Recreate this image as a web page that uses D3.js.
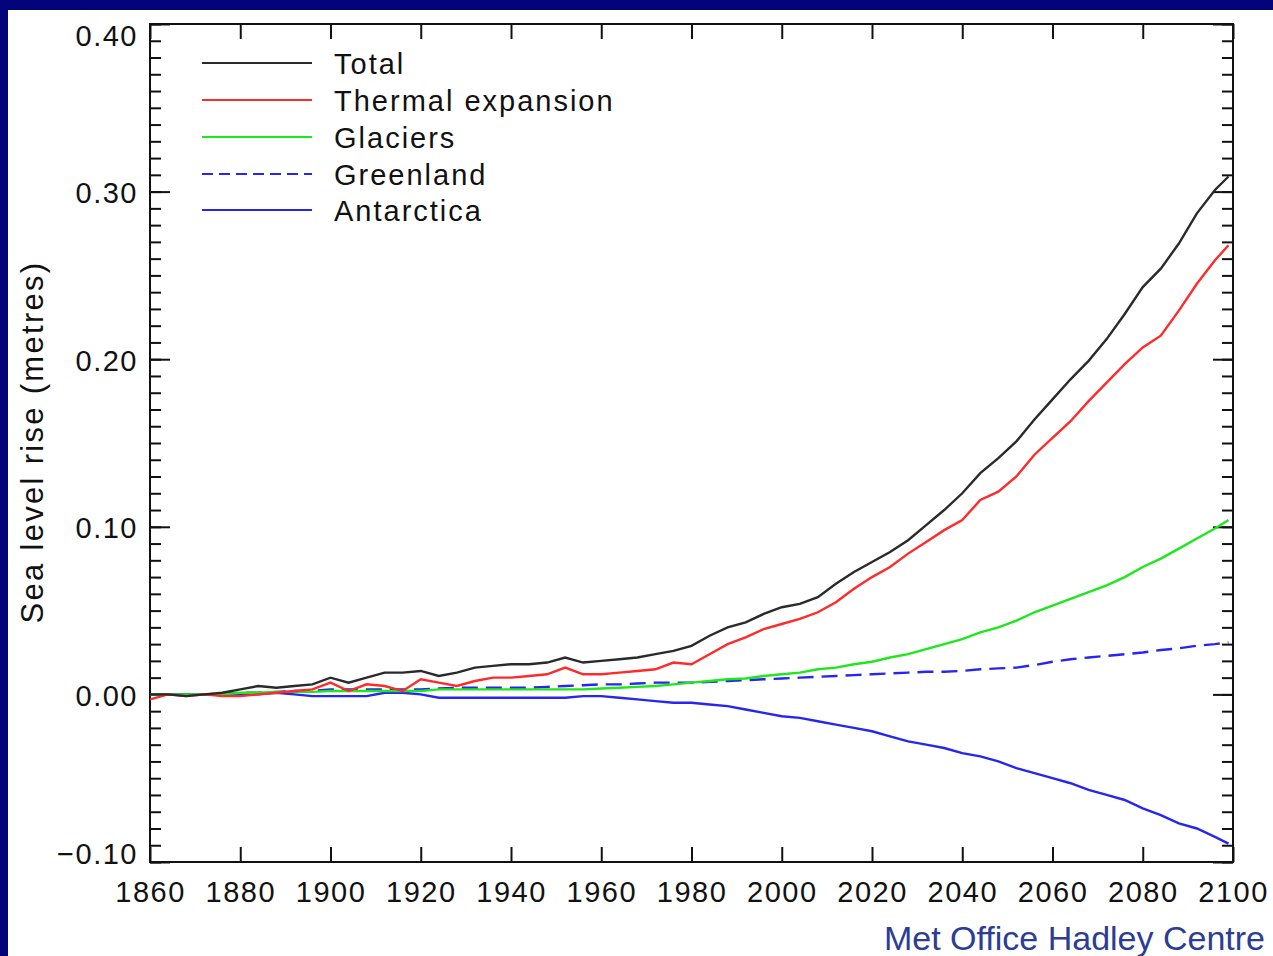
<!DOCTYPE html>
<html>
<head>
<meta charset="utf-8">
<script src="https://cdn.jsdelivr.net/npm/d3@7"></script>
<style>
	body { margin: 0; background: #03037a; }
	svg { display: block; }
	.axis text { font-family: "Liberation Sans", Arial, sans-serif; font-size: 29px; letter-spacing: 1.5px; fill: #111; }
	.axis line { stroke: #111; stroke-width: 2; }
	.axis path { display: none; }
</style>
</head>
<body>
<div id="chart-area"></div>
<script>

// model years (shared x values)
const years = [1860, 1864, 1868, 1872, 1876, 1880, 1884, 1888, 1892, 1896,
	1900, 1904, 1908, 1912, 1916, 1920, 1924, 1928, 1932, 1936,
	1940, 1944, 1948, 1952, 1956, 1960, 1964, 1968, 1972, 1976,
	1980, 1984, 1988, 1992, 1996, 2000, 2004, 2008, 2012, 2016,
	2020, 2024, 2028, 2032, 2036, 2040, 2044, 2048, 2052, 2056,
	2060, 2064, 2068, 2072, 2076, 2080, 2084, 2088, 2092, 2096, 2099];

// sea level rise in metres
const total = [0.000, 0.000, -0.001, 0.000, 0.001, 0.003, 0.005, 0.004, 0.005, 0.006,
	0.010, 0.007, 0.010, 0.013, 0.013, 0.014, 0.011, 0.013, 0.016, 0.017,
	0.018, 0.018, 0.019, 0.022, 0.019, 0.020, 0.021, 0.022, 0.024, 0.026,
	0.029, 0.035, 0.040, 0.043, 0.048, 0.052, 0.054, 0.058, 0.066, 0.073,
	0.079, 0.085, 0.092, 0.101, 0.110, 0.120, 0.132, 0.141, 0.151, 0.164,
	0.176, 0.188, 0.199, 0.212, 0.227, 0.243, 0.254, 0.269, 0.287, 0.301, 0.309];

const thermal = [-0.003, 0.000, -0.001, 0.000, -0.001, -0.001, 0.000, 0.001, 0.002, 0.003,
	0.007, 0.002, 0.006, 0.005, 0.002, 0.009, 0.007, 0.005, 0.008, 0.010,
	0.010, 0.011, 0.012, 0.016, 0.012, 0.012, 0.013, 0.014, 0.015, 0.019,
	0.018, 0.024, 0.030, 0.034, 0.039, 0.042, 0.045, 0.049, 0.055, 0.063,
	0.070, 0.076, 0.084, 0.091, 0.098, 0.104, 0.116, 0.121, 0.130, 0.143,
	0.153, 0.163, 0.175, 0.186, 0.197, 0.207, 0.214, 0.229, 0.245, 0.259, 0.268];

const glaciers = [0.000, 0.000, 0.000, 0.000, 0.000, 0.001, 0.001, 0.0015, 0.0015, 0.0015,
	0.002, 0.002, 0.002, 0.002, 0.002, 0.002, 0.003, 0.003, 0.003, 0.003,
	0.003, 0.003, 0.003, 0.003, 0.003, 0.0035, 0.004, 0.0045, 0.005, 0.006,
	0.007, 0.008, 0.009, 0.0095, 0.011, 0.012, 0.013, 0.015, 0.016, 0.018,
	0.0195, 0.022, 0.024, 0.027, 0.030, 0.033, 0.037, 0.040, 0.044, 0.049,
	0.053, 0.057, 0.061, 0.065, 0.070, 0.076, 0.081, 0.087, 0.093, 0.099, 0.104];

const greenland = [0.000, 0.000, 0.000, 0.000, 0.0005, 0.001, 0.001, 0.0015, 0.002, 0.002,
	0.003, 0.003, 0.003, 0.003, 0.003, 0.003, 0.0035, 0.004, 0.004, 0.004,
	0.004, 0.004, 0.0045, 0.005, 0.0055, 0.006, 0.006, 0.0065, 0.007, 0.007,
	0.007, 0.0075, 0.008, 0.0085, 0.009, 0.0095, 0.010, 0.0105, 0.011, 0.0115,
	0.012, 0.0125, 0.013, 0.0135, 0.0135, 0.014, 0.015, 0.0155, 0.016, 0.0175,
	0.0195, 0.021, 0.022, 0.023, 0.024, 0.025, 0.0265, 0.0275, 0.029, 0.030, 0.031];

const antarctica = [0.000, 0.000, 0.000, 0.000, 0.000, 0.000, 0.000, 0.001, 0.000, -0.001,
	-0.001, -0.001, -0.001, 0.001, 0.001, 0.000, -0.002, -0.002, -0.002, -0.002,
	-0.002, -0.002, -0.002, -0.002, -0.001, -0.001, -0.002, -0.003, -0.004, -0.005,
	-0.005, -0.006, -0.007, -0.009, -0.011, -0.013, -0.014, -0.016, -0.018, -0.020,
	-0.022, -0.025, -0.028, -0.030, -0.032, -0.035, -0.037, -0.040, -0.044, -0.047,
	-0.050, -0.053, -0.057, -0.060, -0.063, -0.068, -0.072, -0.077, -0.080, -0.085, -0.089];

const seriesNames = ["Total", "Thermal expansion", "Glaciers", "Greenland", "Antarctica"];
const seriesValues = [total, thermal, glaciers, greenland, antarctica];

const xTicks = [1860, 1880, 1900, 1920, 1940, 1960, 1980, 2000, 2020, 2040, 2060, 2080, 2100];
const yTicks = [-0.10, 0.00, 0.10, 0.20, 0.30, 0.40];

class SeaLevelChart {

	constructor(parentElement) {
		this.parentElement = parentElement;
		this.colors = ["#2a2a2a", "#ff2b2b", "#1de81d", "#2626ee", "#2626ee"];
		this.dashes = [null, null, null, "16,8", null];
		this.displayData = seriesNames.map((name, i) => ({
			name: name,
			values: years.map((yr, j) => ({year: yr, value: seriesValues[i][j]}))
		}));
	}

	initVis() {
		let vis = this;

		vis.margin = {top: 24, right: 40, bottom: 94, left: 150};
		vis.totalWidth = 1273;
		vis.totalHeight = 956;
		vis.width = vis.totalWidth - vis.margin.left - vis.margin.right;
		vis.height = vis.totalHeight - vis.margin.top - vis.margin.bottom;

		let root = d3.select("#" + vis.parentElement).append("svg")
			.attr("width", vis.totalWidth)
			.attr("height", vis.totalHeight);

		// navy slide background + white panel
		root.append("rect")
			.attr("width", vis.totalWidth)
			.attr("height", vis.totalHeight)
			.attr("fill", "#03037a");
		root.append("rect")
			.attr("x", 8)
			.attr("y", 10)
			.attr("width", vis.totalWidth - 8)
			.attr("height", vis.totalHeight - 10)
			.attr("fill", "#ffffff");

		vis.svg = root.append("g")
			.attr("transform", "translate(" + vis.margin.left + "," + vis.margin.top + ")");

		vis.svg.append("defs").append("clipPath")
			.attr("id", "clip")
			.append("rect")
			.attr("width", vis.width)
			.attr("height", vis.height);

		// Scales
		vis.x = d3.scaleLinear()
			.domain([1860, 2100])
			.range([0, vis.width]);

		vis.y = d3.scaleLinear()
			.domain([-0.10, 0.40])
			.range([vis.height, 0]);

		// minor y ticks every 0.01 (left + right, pointing inward)
		let minor = d3.range(-10, 41).map(d => d / 100);
		vis.svg.append("g")
			.attr("class", "axis")
			.call(d3.axisLeft(vis.y).tickValues(minor).tickSize(-11).tickFormat(""));
		vis.svg.append("g")
			.attr("class", "axis")
			.attr("transform", "translate(" + vis.width + ",0)")
			.call(d3.axisRight(vis.y).tickValues(minor).tickSize(-11).tickFormat(""));

		// major y ticks
		vis.svg.append("g")
			.attr("class", "axis")
			.attr("transform", "translate(" + vis.width + ",0)")
			.call(d3.axisRight(vis.y).tickValues(yTicks).tickSize(-20).tickFormat(""));

		let yAxis = vis.svg.append("g")
			.attr("class", "axis y-axis")
			.call(d3.axisLeft(vis.y).tickValues(yTicks).tickSize(-20)
				.tickFormat(d => (d < 0 ? "\u2212" : "") + Math.abs(d).toFixed(2)));
		yAxis.selectAll("text")
			.attr("x", -12)
			.attr("dy", null)
			.attr("y", d => d === 0.40 ? 21 : (d === -0.10 ? 1 : 11));

		// x ticks, bottom + top
		let xAxis = vis.svg.append("g")
			.attr("class", "axis x-axis")
			.attr("transform", "translate(0," + vis.height + ")")
			.call(d3.axisBottom(vis.x).tickValues(xTicks).tickSize(-15).tickFormat(d3.format("d")));
		xAxis.selectAll("text")
			.attr("dy", null)
			.attr("y", 40);

		vis.svg.append("g")
			.attr("class", "axis")
			.call(d3.axisTop(vis.x).tickValues(xTicks).tickSize(-15).tickFormat(""));

		// frame
		vis.svg.append("rect")
			.attr("width", vis.width)
			.attr("height", vis.height)
			.attr("fill", "none")
			.attr("stroke", "#111")
			.attr("stroke-width", 2);

		// axis title
		vis.svg.append("text")
			.attr("transform", "translate(" + (-107) + "," + (442 - vis.margin.top) + ") rotate(-90)")
			.attr("text-anchor", "middle")
			.style("font-family", "Liberation Sans, Arial, sans-serif")
			.style("font-size", "31px")
			.style("letter-spacing", "2.3px")
			.style("fill", "#111")
			.text("Sea level rise (metres)");

		// credit
		root.append("text")
			.attr("x", 1265)
			.attr("y", 950)
			.attr("text-anchor", "end")
			.style("font-family", "Liberation Sans, Arial, sans-serif")
			.style("font-size", "34px")
			.style("fill", "#2b3d94")
			.text("Met Office Hadley Centre");

		vis.line = d3.line()
			.x(d => vis.x(d.year))
			.y(d => vis.y(d.value));

		vis.updateVis();
	}

	updateVis() {
		let vis = this;

		// draw in back-to-front order so total sits on top
		let order = [4, 3, 2, 1, 0];
		vis.svg.append("g")
			.attr("clip-path", "url(#clip)")
			.selectAll(".series")
			.data(order.map(i => ({i: i, s: vis.displayData[i]})))
			.enter().append("path")
			.attr("class", "series")
			.attr("fill", "none")
			.attr("stroke", d => vis.colors[d.i])
			.attr("stroke-width", 2.4)
			.attr("stroke-dasharray", d => vis.dashes[d.i])
			.attr("d", d => vis.line(d.s.values));

		// legend
		let legend = vis.svg.append("g")
			.attr("transform", "translate(52,39)");

		let rows = legend.selectAll(".legend-row")
			.data(vis.displayData)
			.enter().append("g")
			.attr("class", "legend-row")
			.attr("transform", (d, i) => "translate(0," + [0, 37, 74, 111, 147][i] + ")");

		rows.append("line")
			.attr("x1", 0)
			.attr("x2", 110)
			.attr("stroke", (d, i) => vis.colors[i])
			.attr("stroke-width", 2)
			.attr("stroke-dasharray", (d, i) => i === 3 ? "11,6" : null);

		rows.append("text")
			.attr("x", 132)
			.attr("y", 11)
			.style("font-family", "Liberation Sans, Arial, sans-serif")
			.style("font-size", "29px")
			.style("letter-spacing", "2px")
			.style("fill", "#111")
			.text(d => d.name);
	}
}

let chart = new SeaLevelChart("chart-area");
chart.initVis();
</script>
</body>
</html>
